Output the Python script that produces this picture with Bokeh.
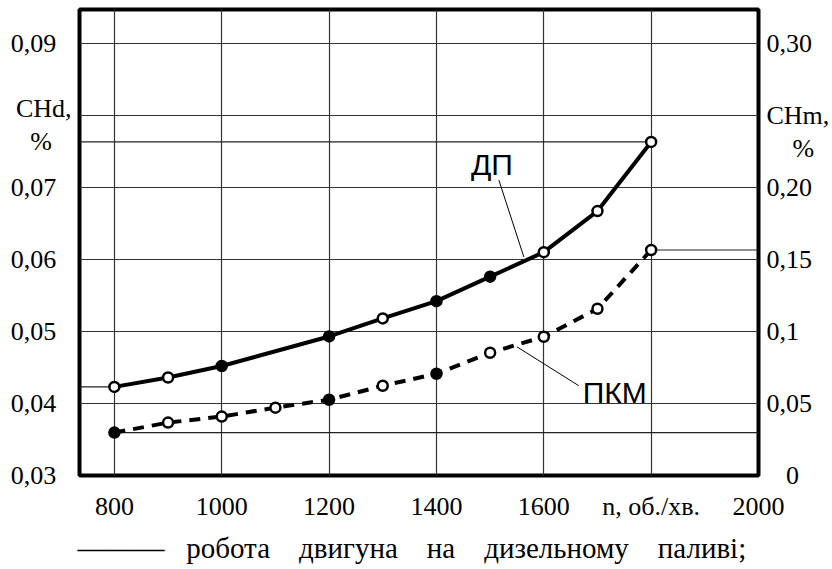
from bokeh.plotting import figure
from bokeh.models import (Range1d, LinearAxis, FixedTicker, Label, Title, Grid,
                          CustomJSTickFormatter, ColumnDataSource)
from bokeh.embed import file_html
from bokeh.resources import INLINE

# ---------------- data ----------------
rpm_dp = [800, 900, 1000, 1200, 1300, 1400, 1500, 1600, 1700, 1800]
chd_dp = [0.0423, 0.0436, 0.0452, 0.0493, 0.0518, 0.0542, 0.0576, 0.0610, 0.0667, 0.0763]

rpm_pkm = [800, 900, 1000, 1100, 1200, 1300, 1400, 1500, 1600, 1700, 1800]
chm_pkm = [0.0298, 0.0367, 0.0409, 0.0471, 0.0526, 0.0623, 0.0706, 0.0852, 0.0963, 0.1157, 0.1565]

x_ticks = [800, 1000, 1200, 1400, 1600, 1800, 2000]
x_labels = ["800", "1000", "1200", "1400", "1600", "n, об./хв.", "2000"]
x_grid_ticks = [800, 1000, 1200, 1400, 1600, 1800]
left_ticks = [0.03, 0.04, 0.05, 0.06, 0.07, 0.09]
left_labels = ["0,03", "0,04", "0,05", "0,06", "0,07", "0,09"]
right_ticks = [0.0, 0.05, 0.10, 0.15, 0.20, 0.30]
right_labels = ["0", "0,05", "0,1", "0,15", "0,20", "0,30"]
h_grid_ticks = [0.04, 0.05, 0.06, 0.07, 0.08, 0.09]

left_title = ["CHd,", "%"]
right_title = ["CHm,", "%"]
name_dp = "ДП"
name_pkm = "ПКМ"
legend_line = "\u2014\u2014\u2014"
legend_words = ["робота", "двигуна", "на", "дизельному", "паливі;"]

dp_filled_at = [1000, 1200, 1400, 1500]
pkm_filled_at = [800, 1200, 1400]

# ---------------- layout ----------------
W, H = 832, 569
FL, FR, FT, FB = 79, 759, 9, 476
X0, X1 = 735, 2000
Y0 = 0.03
px_per_unit = 72.2 / 0.01
Y1 = Y0 + (FB - FT) / px_per_unit
R0 = 0.0
R1 = (Y1 - Y0) * 5.0

# typographic padding (space characters) to place labels like the original
FIG = "\u2007"   # figure space
PUN = "\u2008"   # punctuation space
THIN = "\u2009"
HAIR = "\u200a"
EN = "\u2002"


def px2y(py):
    return Y0 + (FB - py) / (FB - FT) * (Y1 - Y0)


def px2r(py):
    return R0 + (FB - py) / (FB - FT) * (R1 - R0)


def px2x(px):
    return X0 + (px - FL) / (FR - FL) * (X1 - X0)


p = figure(width=W, height=H, output_backend="svg", toolbar_location=None,
           x_range=Range1d(X0, X1), y_range=Range1d(Y0, Y1),
           min_border_left=FL, min_border_right=W - FR,
           min_border_top=FT, min_border_bottom=H - FB,
           x_axis_location=None, y_axis_location=None)
p.extra_y_ranges = {"chm": Range1d(R0, R1)}
p.background_fill_color = "white"
p.border_fill_color = "white"
p.outline_line_color = "black"
p.outline_line_width = 4

SERIF = "Liberation Serif"
SANS = "Liberation Sans"


def fmt(ticks, labels):
    return CustomJSTickFormatter(args=dict(t=ticks, l=labels), code="""
        for (let i = 0; i < t.length; i++) {
            if (Math.abs(t[i] - tick) < 1e-9) { return l[i]; }
        }
        return '';
    """)


def style_axis(ax):
    ax.axis_line_color = None
    ax.major_tick_line_color = None
    ax.minor_tick_line_color = None
    ax.major_tick_out = 0
    ax.major_tick_in = 0
    ax.minor_tick_out = 0
    ax.minor_tick_in = 0
    ax.major_label_text_font = SERIF
    ax.major_label_text_font_size = "26px"
    ax.major_label_text_color = "black"


xaxis = LinearAxis(ticker=FixedTicker(ticks=x_ticks), formatter=fmt(x_ticks, x_labels))
style_axis(xaxis)
xaxis.major_label_standoff = 16
p.add_layout(xaxis, "below")

# left axis: numeric ticks plus the axis title lines at their own positions
l_title_pos = [px2y(108), px2y(141)]
laxis_ticks = left_ticks + l_title_pos
laxis_labels = [s + FIG + HAIR for s in left_labels] + [left_title[0], left_title[1] + FIG + PUN]
laxis = LinearAxis(ticker=FixedTicker(ticks=laxis_ticks), formatter=fmt(laxis_ticks, laxis_labels))
style_axis(laxis)
laxis.major_label_standoff = 8
p.add_layout(laxis, "left")

r_title_pos = [px2r(115), px2r(148)]
raxis_ticks = right_ticks + r_title_pos
raxis_labels = [FIG + PUN + right_labels[0]] + right_labels[1:] + [right_title[0], EN + FIG + right_title[1]]
raxis = LinearAxis(y_range_name="chm", ticker=FixedTicker(ticks=raxis_ticks),
                   formatter=fmt(raxis_ticks, raxis_labels))
style_axis(raxis)
raxis.major_label_standoff = 8
p.add_layout(raxis, "right")

# grid
p.xgrid.visible = False
p.ygrid.visible = False
vg = Grid(dimension=0, ticker=FixedTicker(ticks=x_grid_ticks),
          grid_line_color="#333333", grid_line_width=1.2)
hg = Grid(dimension=1, ticker=FixedTicker(ticks=h_grid_ticks),
          grid_line_color="#333333", grid_line_width=1.2)
p.add_layout(vg)
p.add_layout(hg)

# reference lines from data values
pkm_first_left = Y0 + chm_pkm[0] / 5.0
pkm_last_left = Y0 + chm_pkm[-1] / 5.0
p.segment(x0=[X0, X0, rpm_pkm[0], rpm_pkm[-1]],
          y0=[chd_dp[0], chd_dp[-1], pkm_first_left, pkm_last_left],
          x1=[rpm_dp[0], rpm_dp[-1], X1, X1],
          y1=[chd_dp[0], chd_dp[-1], pkm_first_left, pkm_last_left],
          line_color="#222222", line_width=1.2)

# curves
p.line(rpm_dp, chd_dp, line_color="black", line_width=4, line_join="round")
p.line(rpm_pkm, chm_pkm, y_range_name="chm", line_color="black", line_width=4,
       line_dash="11 8")

dp_src = ColumnDataSource(dict(x=rpm_dp, y=chd_dp,
                               f=["black" if v in dp_filled_at else "white" for v in rpm_dp]))
pkm_src = ColumnDataSource(dict(x=rpm_pkm, y=chm_pkm,
                                f=["black" if v in pkm_filled_at else "white" for v in rpm_pkm]))
p.scatter("x", "y", source=dp_src, size=10, fill_color="f", line_color="black", line_width=2.5)
p.scatter("x", "y", source=pkm_src, y_range_name="chm", size=10, fill_color="f",
          line_color="black", line_width=2.5)

# leader lines
p.segment(x0=[px2x(499), px2x(517)], y0=[px2y(180), px2y(347)],
          x1=[px2x(524), px2x(579)], y1=[px2y(257), px2y(386)],
          line_color="black", line_width=1)

p.add_layout(Label(x=px2x(492), y=px2y(164), text=name_dp, text_font=SANS, text_color="black",
                   text_font_size="30px", text_align="center", text_baseline="middle"))
p.add_layout(Label(x=px2x(615), y=px2y(393), text=name_pkm, text_font=SANS, text_color="black",
                   text_font_size="30px", text_align="center", text_baseline="middle"))

# legend line and text below the axis
gap = EN + "\u00a0" + PUN
legend_text = legend_line + EN + PUN + gap.join(legend_words)
p.add_layout(Title(text=legend_text, align="left", offset=-2, standoff=12,
                   text_font=SERIF, text_font_size="29px", text_font_style="normal",
                   text_color="black"), "below")

open("out.html", "w").write(file_html(p, INLINE))
